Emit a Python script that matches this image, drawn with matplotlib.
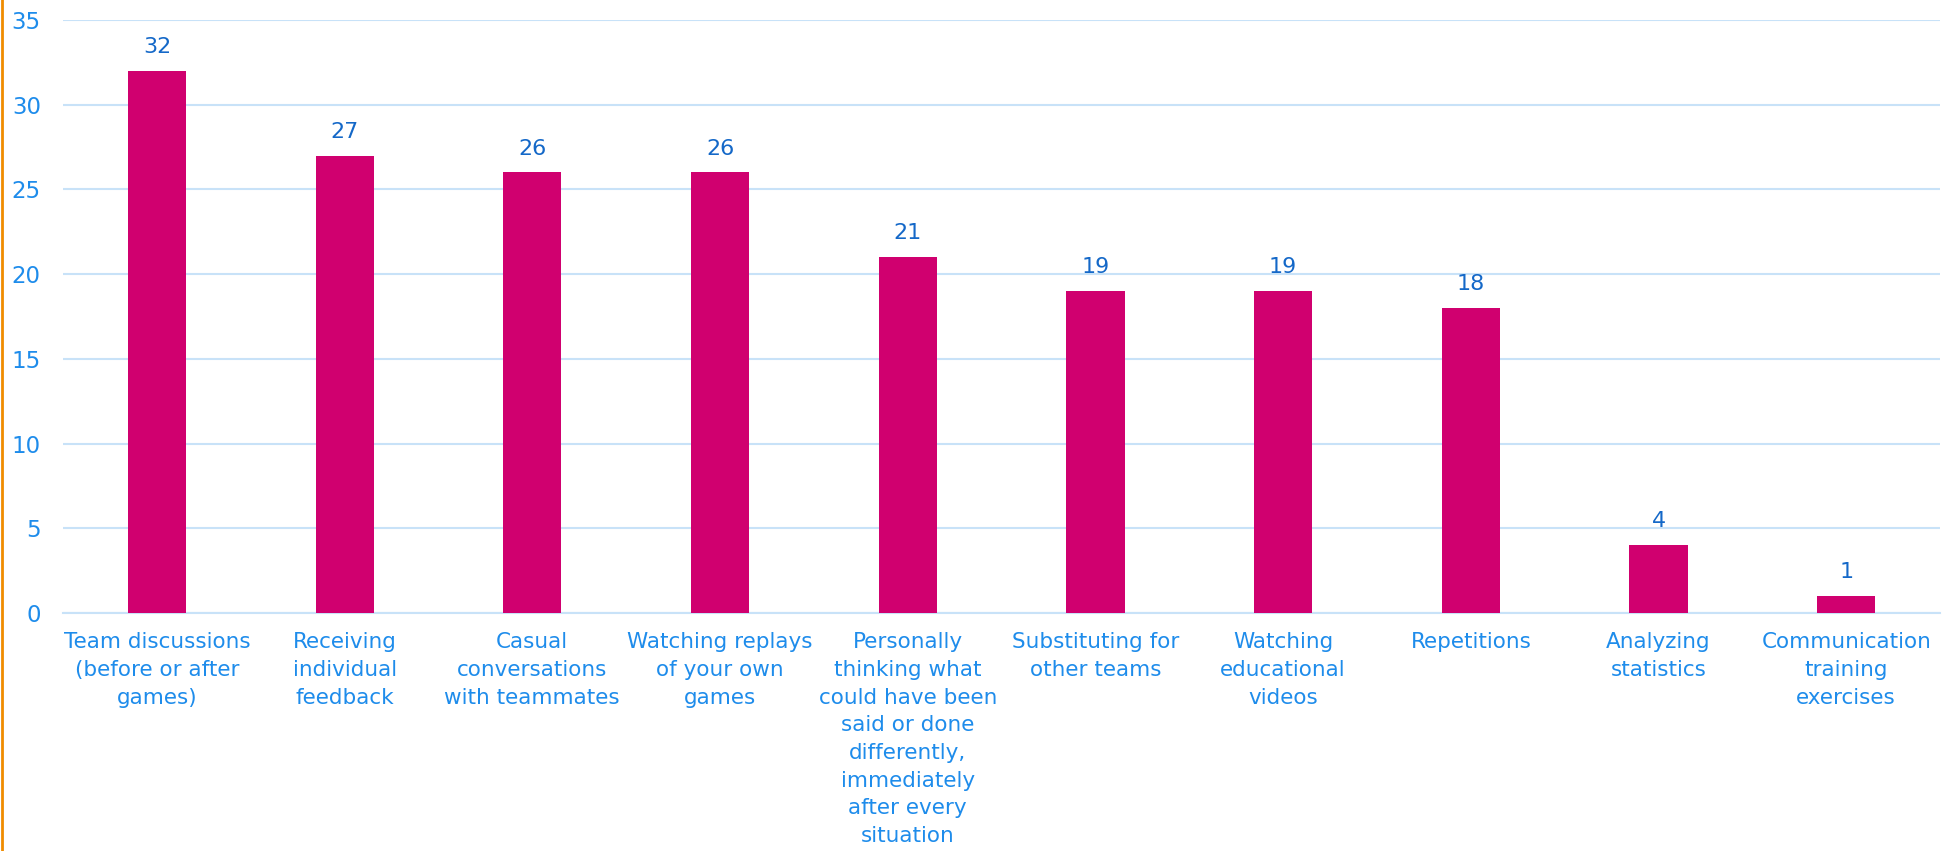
import matplotlib.pyplot as plt
from matplotlib.lines import Line2D

categories = [
    "Team discussions\n(before or after\ngames)",
    "Receiving\nindividual\nfeedback",
    "Casual\nconversations\nwith teammates",
    "Watching replays\nof your own\ngames",
    "Personally\nthinking what\ncould have been\nsaid or done\ndifferently,\nimmediately\nafter every\nsituation",
    "Substituting for\nother teams",
    "Watching\neducational\nvideos",
    "Repetitions",
    "Analyzing\nstatistics",
    "Communication\ntraining\nexercises",
]
counts = [32, 27, 26, 26, 21, 19, 19, 18, 4, 1]
y_ticks = [0, 5, 10, 15, 20, 25, 30, 35]

bar_color = "#D0006F"
label_blue = "#1E8CEB"
value_blue = "#1468C8"
grid_blue = "#C8E2F8"

fig = plt.figure(figsize=(19.52, 8.51), dpi=100)
ax = fig.add_axes([0.0323, 0.2797, 0.9616, 0.6968])

x = range(len(counts))
bars = ax.bar(x, counts, width=0.31, color=bar_color, zorder=3)

for rect, val in zip(bars, counts):
    ax.annotate(str(val), (rect.get_x() + rect.get_width() / 2, val),
                xytext=(0, 10), textcoords="offset points",
                ha="center", va="bottom", fontsize=16, color=value_blue)

ax.set_xlim(-0.5, len(counts) - 0.5)
ax.set_ylim(0, 35)
ax.set_yticks(y_ticks)
ax.set_xticks(list(x))
ax.set_xticklabels(categories, fontsize=15.5, color=label_blue, linespacing=1.48)
ax.tick_params(axis="y", labelsize=16.5, labelcolor=label_blue, length=0, pad=16)
ax.tick_params(axis="x", length=0, pad=14)

ax.grid(axis="y", color=grid_blue, linewidth=1.5, zorder=0)
for side in ["top", "right", "left"]:
    ax.spines[side].set_visible(False)
ax.spines["bottom"].set_color(grid_blue)
ax.spines["bottom"].set_linewidth(1.5)

# thin orange rule along the left edge of the figure
fig.add_artist(Line2D([0.0008, 0.0008], [0, 1], transform=fig.transFigure,
                      color="#F08C00", linewidth=2))

fig.savefig("out.png", dpi=100)
